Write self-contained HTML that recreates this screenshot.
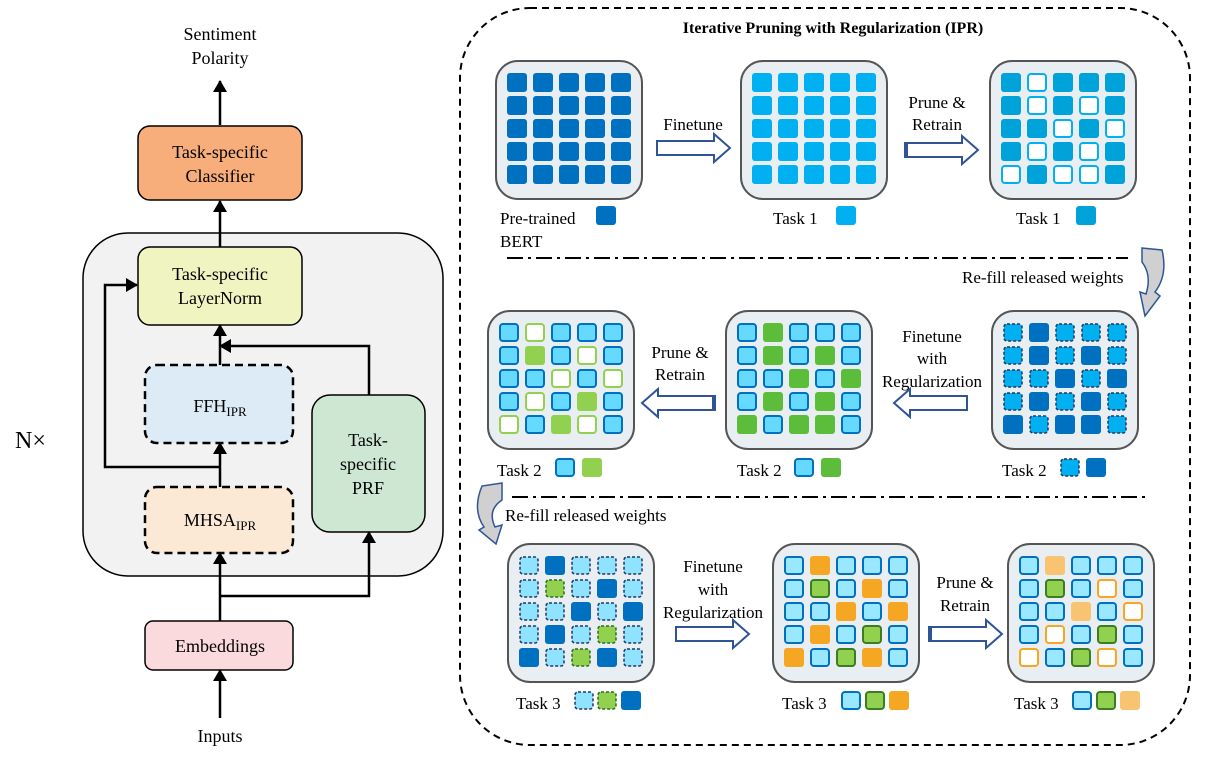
<!DOCTYPE html>
<html><head><meta charset="utf-8"><style>
html,body{margin:0;padding:0;background:#fff;}
svg{display:block;font-family:"Liberation Serif",serif;}
</style></head><body>
<svg width="1209" height="761" viewBox="0 0 1209 761" xmlns="http://www.w3.org/2000/svg">
<defs>
<marker id="ah" markerWidth="12" markerHeight="14" refX="11" refY="7" orient="auto" markerUnits="userSpaceOnUse"><path d="M0,0 L12,7 L0,14 Z" fill="#000"/></marker>
<g id="D"><rect width="20" height="19" rx="3" fill="#0070C0"/></g>
<g id="C"><rect width="20" height="19" rx="3" fill="#00B0F0"/></g>
<g id="M"><rect width="20" height="19" rx="3" fill="#00A3D9"/></g>
<g id="W"><rect x="1" y="1" width="18" height="17" rx="3" fill="#fff" stroke="#00B0F0" stroke-width="2"/></g>
<g id="X"><rect x="1" y="1" width="18" height="17" rx="3" fill="#00B0F0" stroke="#1F3864" stroke-width="1.5" stroke-dasharray="3 2"/></g>
<g id="L"><rect x="1" y="1" width="18" height="17" rx="3" fill="#66D9FF" stroke="#0070C0" stroke-width="2"/></g>
<g id="G"><rect width="20" height="19" rx="3" fill="#5BBD3A"/></g>
<g id="LG"><rect width="20" height="19" rx="3" fill="#92D050"/></g>
<g id="WG"><rect x="1" y="1" width="18" height="17" rx="3" fill="#fff" stroke="#92D050" stroke-width="2"/></g>
<g id="DL"><rect x="1" y="1" width="18" height="17" rx="3" fill="#8FE3FF" stroke="#1F3864" stroke-width="1.5" stroke-dasharray="3 2"/></g>
<g id="DG"><rect x="1" y="1" width="18" height="17" rx="3" fill="#92D050" stroke="#2E6B1F" stroke-width="1.5" stroke-dasharray="3 2"/></g>
<g id="L2"><rect x="1" y="1" width="18" height="17" rx="3" fill="#99E8FF" stroke="#0070C0" stroke-width="2"/></g>
<g id="GG"><rect x="1" y="1" width="18" height="17" rx="3" fill="#92D050" stroke="#3B7D23" stroke-width="2"/></g>
<g id="O"><rect width="20" height="19" rx="3" fill="#F5A623"/></g>
<g id="LO"><rect width="20" height="19" rx="3" fill="#F8C471"/></g>
<g id="WO"><rect x="1" y="1" width="18" height="17" rx="3" fill="#fff" stroke="#F5A623" stroke-width="2"/></g>
<g id="box"><rect x="1" y="1" width="146" height="138" rx="22" fill="#E8EEF2" stroke="#555" stroke-width="2"/></g>
<g id="arR"><path d="M1,-7 L58,-7 L58,-14 L74,0 L58,14 L58,7 L1,7 Z" fill="#fff" stroke="#2F5597" stroke-width="2"/></g>
<g id="arRt"><path d="M1,-7 L58,-7 L58,-14 L74,0 L58,14 L58,7 L1,7 Z" fill="#fff" stroke="#2F5597" stroke-width="2"/><rect x="0" y="-7" width="4" height="14" fill="#2F5597"/></g>
<g id="arL"><path d="M73,-7 L16,-7 L16,-14 L0,0 L16,14 L16,7 L73,7 Z" fill="#fff" stroke="#2F5597" stroke-width="2"/></g>
<g id="arLt"><path d="M73,-7 L16,-7 L16,-14 L0,0 L16,14 L16,7 L73,7 Z" fill="#fff" stroke="#2F5597" stroke-width="2"/><rect x="70" y="-7" width="4" height="14" fill="#2F5597"/></g>
</defs>

<!-- LEFT -->
<text x="220" y="40" font-size="18" text-anchor="middle">Sentiment</text>
<text x="220" y="64" font-size="18" text-anchor="middle">Polarity</text>
<line x1="220" y1="125" x2="220" y2="81" stroke="#000" stroke-width="2.5" marker-end="url(#ah)"/>
<rect x="138" y="126" width="164" height="74" rx="12" fill="#F8AE7A" stroke="#000" stroke-width="1.5"/>
<text x="220" y="158" font-size="18" text-anchor="middle">Task-specific</text>
<text x="220" y="182" font-size="18" text-anchor="middle">Classifier</text>
<rect x="83" y="233" width="360" height="343" rx="45" fill="#F2F2F2" stroke="#000" stroke-width="1.5"/>
<line x1="220" y1="247" x2="220" y2="201" stroke="#000" stroke-width="2.5" marker-end="url(#ah)"/>
<rect x="138" y="247" width="164" height="78" rx="12" fill="#F0F4C0" stroke="#000" stroke-width="1.5"/>
<text x="220" y="280" font-size="18" text-anchor="middle">Task-specific</text>
<text x="220" y="304" font-size="18" text-anchor="middle">LayerNorm</text>
<rect x="145" y="365" width="148" height="78" rx="12" fill="#DDEBF6" stroke="#000" stroke-width="2.5" stroke-dasharray="8 5"/>
<text x="220" y="412" font-size="18" text-anchor="middle">FFH<tspan font-size="13" dy="4">IPR</tspan></text>
<rect x="145" y="487" width="148" height="66" rx="12" fill="#FBE9D6" stroke="#000" stroke-width="2.5" stroke-dasharray="8 5"/>
<text x="220" y="526" font-size="18" text-anchor="middle">MHSA<tspan font-size="13" dy="4">IPR</tspan></text>
<rect x="312" y="395" width="113" height="137" rx="18" fill="#CDE7D3" stroke="#000" stroke-width="1.5"/>
<text x="368" y="446" font-size="18" text-anchor="middle">Task-</text>
<text x="368" y="470" font-size="18" text-anchor="middle">specific</text>
<text x="368" y="494" font-size="18" text-anchor="middle">PRF</text>
<rect x="145" y="621" width="148" height="49" rx="8" fill="#FADADD" stroke="#000" stroke-width="1.5"/>
<text x="220" y="652" font-size="18" text-anchor="middle">Embeddings</text>
<text x="220" y="742" font-size="18" text-anchor="middle">Inputs</text>
<text x="15" y="448" font-size="24">N×</text>
<g stroke="#000" stroke-width="2.5" fill="none">
<line x1="220" y1="718" x2="220" y2="670" marker-end="url(#ah)"/>
<line x1="220" y1="621" x2="220" y2="553" marker-end="url(#ah)"/>
<polyline points="220,596 369,596 369,532" marker-end="url(#ah)"/>
<line x1="220" y1="487" x2="220" y2="443" marker-end="url(#ah)"/>
<polyline points="220,467 105,467 105,285 137,285" marker-end="url(#ah)"/>
<line x1="220" y1="365" x2="220" y2="325" marker-end="url(#ah)"/>
<polyline points="369,395 369,346 220,346" marker-end="url(#ah)"/>
</g>

<!-- RIGHT -->
<rect x="460" y="8" width="730" height="737" rx="70" fill="none" stroke="#000" stroke-width="2" stroke-dasharray="7 5"/>
<text x="833" y="33" font-size="16" font-weight="bold" text-anchor="middle">Iterative Pruning with Regularization (IPR)</text>
<line x1="507" y1="258" x2="1128" y2="258" stroke="#000" stroke-width="2" stroke-dasharray="16 5 3 5"/>
<line x1="512" y1="497" x2="1145" y2="497" stroke="#000" stroke-width="2" stroke-dasharray="16 5 3 5"/>

<!-- G1 -->
<g transform="translate(495,60)"><use href="#box"/>
<use href="#D" x="12" y="13"/><use href="#D" x="38" y="13"/><use href="#D" x="64" y="13"/><use href="#D" x="90" y="13"/><use href="#D" x="116" y="13"/>
<use href="#D" x="12" y="36"/><use href="#D" x="38" y="36"/><use href="#D" x="64" y="36"/><use href="#D" x="90" y="36"/><use href="#D" x="116" y="36"/>
<use href="#D" x="12" y="59"/><use href="#D" x="38" y="59"/><use href="#D" x="64" y="59"/><use href="#D" x="90" y="59"/><use href="#D" x="116" y="59"/>
<use href="#D" x="12" y="82"/><use href="#D" x="38" y="82"/><use href="#D" x="64" y="82"/><use href="#D" x="90" y="82"/><use href="#D" x="116" y="82"/>
<use href="#D" x="12" y="105"/><use href="#D" x="38" y="105"/><use href="#D" x="64" y="105"/><use href="#D" x="90" y="105"/><use href="#D" x="116" y="105"/>
</g>
<!-- G2 -->
<g transform="translate(740,60)"><use href="#box"/>
<use href="#C" x="12" y="13"/><use href="#C" x="38" y="13"/><use href="#C" x="64" y="13"/><use href="#C" x="90" y="13"/><use href="#C" x="116" y="13"/>
<use href="#C" x="12" y="36"/><use href="#C" x="38" y="36"/><use href="#C" x="64" y="36"/><use href="#C" x="90" y="36"/><use href="#C" x="116" y="36"/>
<use href="#C" x="12" y="59"/><use href="#C" x="38" y="59"/><use href="#C" x="64" y="59"/><use href="#C" x="90" y="59"/><use href="#C" x="116" y="59"/>
<use href="#C" x="12" y="82"/><use href="#C" x="38" y="82"/><use href="#C" x="64" y="82"/><use href="#C" x="90" y="82"/><use href="#C" x="116" y="82"/>
<use href="#C" x="12" y="105"/><use href="#C" x="38" y="105"/><use href="#C" x="64" y="105"/><use href="#C" x="90" y="105"/><use href="#C" x="116" y="105"/>
</g>
<!-- G3 -->
<g transform="translate(989,60)"><use href="#box"/>
<use href="#M" x="12" y="13"/><use href="#W" x="38" y="13"/><use href="#M" x="64" y="13"/><use href="#M" x="90" y="13"/><use href="#M" x="116" y="13"/>
<use href="#M" x="12" y="36"/><use href="#W" x="38" y="36"/><use href="#M" x="64" y="36"/><use href="#W" x="90" y="36"/><use href="#M" x="116" y="36"/>
<use href="#M" x="12" y="59"/><use href="#M" x="38" y="59"/><use href="#W" x="64" y="59"/><use href="#M" x="90" y="59"/><use href="#W" x="116" y="59"/>
<use href="#M" x="12" y="82"/><use href="#W" x="38" y="82"/><use href="#M" x="64" y="82"/><use href="#W" x="90" y="82"/><use href="#M" x="116" y="82"/>
<use href="#W" x="12" y="105"/><use href="#M" x="38" y="105"/><use href="#W" x="64" y="105"/><use href="#W" x="90" y="105"/><use href="#M" x="116" y="105"/>
</g>
<!-- G4 -->
<g transform="translate(487,310)"><use href="#box"/>
<use href="#L" x="12" y="13"/><use href="#WG" x="38" y="13"/><use href="#L" x="64" y="13"/><use href="#L" x="90" y="13"/><use href="#L" x="116" y="13"/>
<use href="#L" x="12" y="36"/><use href="#LG" x="38" y="36"/><use href="#L" x="64" y="36"/><use href="#WG" x="90" y="36"/><use href="#L" x="116" y="36"/>
<use href="#L" x="12" y="59"/><use href="#L" x="38" y="59"/><use href="#WG" x="64" y="59"/><use href="#L" x="90" y="59"/><use href="#WG" x="116" y="59"/>
<use href="#L" x="12" y="82"/><use href="#WG" x="38" y="82"/><use href="#L" x="64" y="82"/><use href="#LG" x="90" y="82"/><use href="#L" x="116" y="82"/>
<use href="#WG" x="12" y="105"/><use href="#L" x="38" y="105"/><use href="#LG" x="64" y="105"/><use href="#WG" x="90" y="105"/><use href="#L" x="116" y="105"/>
</g>
<!-- G5 -->
<g transform="translate(725,310)"><use href="#box"/>
<use href="#L" x="12" y="13"/><use href="#G" x="38" y="13"/><use href="#L" x="64" y="13"/><use href="#L" x="90" y="13"/><use href="#L" x="116" y="13"/>
<use href="#L" x="12" y="36"/><use href="#G" x="38" y="36"/><use href="#L" x="64" y="36"/><use href="#G" x="90" y="36"/><use href="#L" x="116" y="36"/>
<use href="#L" x="12" y="59"/><use href="#L" x="38" y="59"/><use href="#G" x="64" y="59"/><use href="#L" x="90" y="59"/><use href="#G" x="116" y="59"/>
<use href="#L" x="12" y="82"/><use href="#G" x="38" y="82"/><use href="#L" x="64" y="82"/><use href="#G" x="90" y="82"/><use href="#L" x="116" y="82"/>
<use href="#G" x="12" y="105"/><use href="#L" x="38" y="105"/><use href="#G" x="64" y="105"/><use href="#G" x="90" y="105"/><use href="#L" x="116" y="105"/>
</g>
<!-- G6 -->
<g transform="translate(991,310)"><use href="#box"/>
<use href="#X" x="12" y="13"/><use href="#D" x="38" y="13"/><use href="#X" x="64" y="13"/><use href="#X" x="90" y="13"/><use href="#X" x="116" y="13"/>
<use href="#X" x="12" y="36"/><use href="#D" x="38" y="36"/><use href="#X" x="64" y="36"/><use href="#D" x="90" y="36"/><use href="#X" x="116" y="36"/>
<use href="#X" x="12" y="59"/><use href="#X" x="38" y="59"/><use href="#D" x="64" y="59"/><use href="#X" x="90" y="59"/><use href="#D" x="116" y="59"/>
<use href="#X" x="12" y="82"/><use href="#D" x="38" y="82"/><use href="#X" x="64" y="82"/><use href="#D" x="90" y="82"/><use href="#X" x="116" y="82"/>
<use href="#D" x="12" y="105"/><use href="#X" x="38" y="105"/><use href="#D" x="64" y="105"/><use href="#D" x="90" y="105"/><use href="#X" x="116" y="105"/>
</g>
<!-- G7 -->
<g transform="translate(507,543)"><use href="#box"/>
<use href="#DL" x="12" y="13"/><use href="#D" x="38" y="13"/><use href="#DL" x="64" y="13"/><use href="#DL" x="90" y="13"/><use href="#DL" x="116" y="13"/>
<use href="#DL" x="12" y="36"/><use href="#DG" x="38" y="36"/><use href="#DL" x="64" y="36"/><use href="#D" x="90" y="36"/><use href="#DL" x="116" y="36"/>
<use href="#DL" x="12" y="59"/><use href="#DL" x="38" y="59"/><use href="#D" x="64" y="59"/><use href="#DL" x="90" y="59"/><use href="#D" x="116" y="59"/>
<use href="#DL" x="12" y="82"/><use href="#D" x="38" y="82"/><use href="#DL" x="64" y="82"/><use href="#DG" x="90" y="82"/><use href="#DL" x="116" y="82"/>
<use href="#D" x="12" y="105"/><use href="#DL" x="38" y="105"/><use href="#DG" x="64" y="105"/><use href="#D" x="90" y="105"/><use href="#DL" x="116" y="105"/>
</g>
<!-- G8 -->
<g transform="translate(772,543)"><use href="#box"/>
<use href="#L2" x="12" y="13"/><use href="#O" x="38" y="13"/><use href="#L2" x="64" y="13"/><use href="#L2" x="90" y="13"/><use href="#L2" x="116" y="13"/>
<use href="#L2" x="12" y="36"/><use href="#GG" x="38" y="36"/><use href="#L2" x="64" y="36"/><use href="#O" x="90" y="36"/><use href="#L2" x="116" y="36"/>
<use href="#L2" x="12" y="59"/><use href="#L2" x="38" y="59"/><use href="#O" x="64" y="59"/><use href="#L2" x="90" y="59"/><use href="#O" x="116" y="59"/>
<use href="#L2" x="12" y="82"/><use href="#O" x="38" y="82"/><use href="#L2" x="64" y="82"/><use href="#GG" x="90" y="82"/><use href="#L2" x="116" y="82"/>
<use href="#O" x="12" y="105"/><use href="#L2" x="38" y="105"/><use href="#GG" x="64" y="105"/><use href="#O" x="90" y="105"/><use href="#L2" x="116" y="105"/>
</g>
<!-- G9 -->
<g transform="translate(1007,543)"><use href="#box"/>
<use href="#L2" x="12" y="13"/><use href="#LO" x="38" y="13"/><use href="#L2" x="64" y="13"/><use href="#L2" x="90" y="13"/><use href="#L2" x="116" y="13"/>
<use href="#L2" x="12" y="36"/><use href="#GG" x="38" y="36"/><use href="#L2" x="64" y="36"/><use href="#WO" x="90" y="36"/><use href="#L2" x="116" y="36"/>
<use href="#L2" x="12" y="59"/><use href="#L2" x="38" y="59"/><use href="#LO" x="64" y="59"/><use href="#L2" x="90" y="59"/><use href="#WO" x="116" y="59"/>
<use href="#L2" x="12" y="82"/><use href="#WO" x="38" y="82"/><use href="#L2" x="64" y="82"/><use href="#GG" x="90" y="82"/><use href="#L2" x="116" y="82"/>
<use href="#WO" x="12" y="105"/><use href="#L2" x="38" y="105"/><use href="#GG" x="64" y="105"/><use href="#WO" x="90" y="105"/><use href="#L2" x="116" y="105"/>
</g>

<!-- labels & legends -->
<g font-size="17">
<text x="500" y="224">Pre-trained</text><text x="500" y="247">BERT</text>
<use href="#D" x="596" y="206"/>
<text x="773" y="224">Task 1</text><use href="#C" x="836" y="206"/>
<text x="1016" y="224">Task 1</text><use href="#M" x="1076" y="206"/>
<text x="497" y="476">Task 2</text><use href="#L" x="555" y="458"/><use href="#LG" x="582" y="458"/>
<text x="737" y="476">Task 2</text><use href="#L" x="794" y="458"/><use href="#G" x="821" y="458"/>
<text x="1002" y="476">Task 2</text><use href="#X" x="1060" y="458"/><use href="#D" x="1086" y="458"/>
<text x="516" y="709">Task 3</text><use href="#DL" x="574" y="691"/><use href="#DG" x="597" y="691"/><use href="#D" x="621" y="691"/>
<text x="782" y="709">Task 3</text><use href="#L2" x="841" y="691"/><use href="#GG" x="865" y="691"/><use href="#O" x="889" y="691"/>
<text x="1014" y="709">Task 3</text><use href="#L2" x="1072" y="691"/><use href="#GG" x="1096" y="691"/><use href="#LO" x="1120" y="691"/>
</g>

<!-- arrows -->
<use href="#arR" x="656" y="148"/>
<text x="693" y="130" font-size="17" text-anchor="middle">Finetune</text>
<use href="#arRt" x="904" y="150"/>
<text x="937" y="108" font-size="17" text-anchor="middle">Prune &amp;</text>
<text x="937" y="130" font-size="17" text-anchor="middle">Retrain</text>
<use href="#arLt" x="642" y="403"/>
<text x="680" y="358" font-size="17" text-anchor="middle">Prune &amp;</text>
<text x="680" y="380" font-size="17" text-anchor="middle">Retrain</text>
<use href="#arL" x="894" y="403"/>
<text x="932" y="342" font-size="17" text-anchor="middle">Finetune</text>
<text x="932" y="364" font-size="17" text-anchor="middle">with</text>
<text x="932" y="387" font-size="17" text-anchor="middle">Regularization</text>
<use href="#arR" x="675" y="634"/>
<text x="713" y="572" font-size="17" text-anchor="middle">Finetune</text>
<text x="713" y="595" font-size="17" text-anchor="middle">with</text>
<text x="713" y="618" font-size="17" text-anchor="middle">Regularization</text>
<use href="#arRt" x="928" y="634"/>
<text x="965" y="588" font-size="17" text-anchor="middle">Prune &amp;</text>
<text x="965" y="611" font-size="17" text-anchor="middle">Retrain</text>

<!-- refill curved arrows -->
<path d="M1142,248 L1162,250 Q1168,275 1155,292 L1160,296 L1145,316 L1140,292 L1146,294 Q1152,275 1142,262 Z" fill="#D0D0D0" stroke="#2F5597" stroke-width="1.5"/>
<text x="962" y="283" font-size="17">Re-fill released weights</text>
<path d="M502,483 L482,486 Q472,510 484,527 L479,530 L496,544 L502,525 L495,527 Q487,510 502,500 Z" fill="#D0D0D0" stroke="#2F5597" stroke-width="1.5"/>
<text x="505" y="521" font-size="17">Re-fill released weights</text>
</svg>
</body></html>
